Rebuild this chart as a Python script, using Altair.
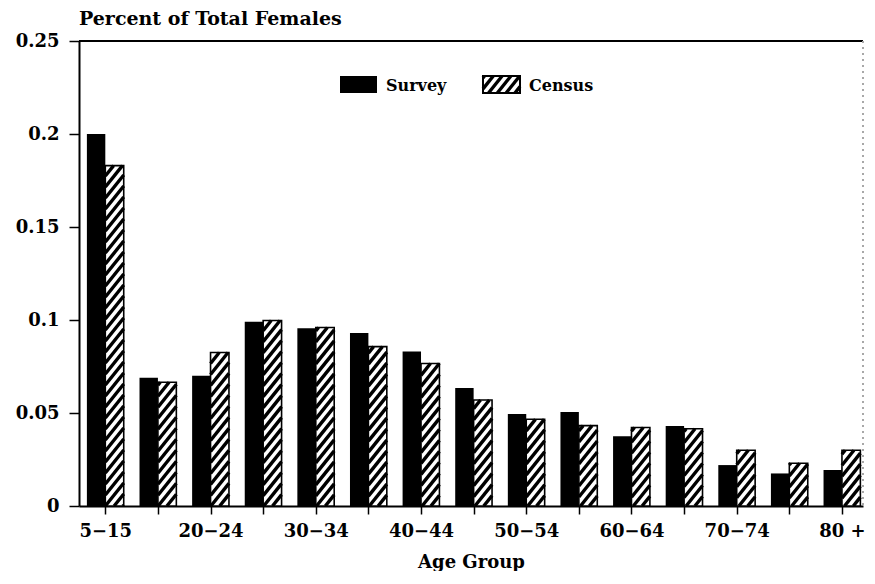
import altair as alt
import pandas as pd
import math

# ---- data ----
age_groups = ["5\u221215", "16\u221219", "20\u221224", "25\u221229", "30\u221234", "35\u221239",
              "40\u221244", "45\u221249", "50\u221254", "55\u221259", "60\u221264", "65\u221269",
              "70\u221274", "75\u221279", "80 +"]
survey = [0.200, 0.069, 0.070, 0.099, 0.0955, 0.093, 0.083, 0.0635, 0.0495, 0.0505,
          0.0375, 0.043, 0.022, 0.0175, 0.0193]
census = [0.183, 0.0665, 0.0825, 0.0997, 0.096, 0.0857, 0.0766, 0.057, 0.0466, 0.0432,
          0.0422, 0.0415, 0.030, 0.023, 0.030]
y_ticks = [0, 0.05, 0.1, 0.15, 0.2, 0.25]
series_names = ["Survey", "Census"]

# ---- layout / style constants ----
FONT = "DejaVu Serif"
N = len(age_groups)
STEP = 52.6
XMIN, XMAX = -0.5, N - 0.6
W = round(STEP * (XMAX - XMIN))
H = 465
YMAX = 0.25
PX_X = W / (XMAX - XMIN)
PX_Y = H / YMAX
BAR_W = 0.35
SLOPE = 1.25
PERIOD = 11.0


def hatch(x0, x1, y0, y1):
    X0, X1 = x0 * PX_X, x1 * PX_X
    Y0, Y1 = y0 * PX_Y, y1 * PX_Y
    segs = []
    kmin = math.floor((Y0 - SLOPE * X1) / PERIOD)
    kmax = math.ceil((Y1 - SLOPE * X0) / PERIOD)
    for k in range(kmin, kmax + 1):
        c = k * PERIOD
        xa = max(X0, (Y0 - c) / SLOPE)
        xb = min(X1, (Y1 - c) / SLOPE)
        if xb - xa > 0.8:
            segs.append({"hx": xa / PX_X, "hx2": xb / PX_X,
                         "hy": (SLOPE * xa + c) / PX_Y, "hy2": (SLOPE * xb + c) / PX_Y})
    return segs


bars = pd.DataFrame({
    "idx": list(range(N)) * 2,
    "group": age_groups * 2,
    "series": [series_names[0]] * N + [series_names[1]] * N,
    "value": survey + census,
})
bars["x0"] = bars["idx"] + bars["series"].map({"Survey": -BAR_W, "Census": 0.0})
bars["x1"] = bars["idx"] + bars["series"].map({"Survey": 0.0, "Census": BAR_W})

hatch_rows = []
for i, v in enumerate(census):
    hatch_rows += hatch(i, i + BAR_W, 0, v)

# legend (placed in pixel space of the plot, converted to data units)
def px2x(px):
    return XMIN + px / PX_X

def px2y(py):
    return YMAX - py / PX_Y

LEG_Y0, LEG_Y1 = 35, 52
leg = pd.DataFrame({
    "series": series_names,
    "x0": [px2x(261), px2x(404)],
    "x1": [px2x(298), px2x(441)],
    "y0": [px2y(LEG_Y1)] * 2,
    "y1": [px2y(LEG_Y0)] * 2,
    "tx": [px2x(307), px2x(450)],
    "ty": [px2y((LEG_Y0 + LEG_Y1) / 2 + 1)] * 2,
})
hatch_rows += hatch(px2x(404), px2x(441), px2y(LEG_Y1), px2y(LEG_Y0))
hatch_df = pd.DataFrame(hatch_rows)

xscale = alt.Scale(domain=[XMIN, XMAX], nice=False, zero=False)
yscale = alt.Scale(domain=[0, YMAX], nice=False)

label_arr = "[" + ",".join("'" + g + "'" for g in age_groups) + "]"

x_axis = alt.Axis(values=list(range(N)),
                  labelExpr=f"datum.value % 2 == 0 ? {label_arr}[datum.value] : ''",
                  title="Age Group", grid=False, tickSize=8, tickWidth=1.5,
                  tickColor="black", domainColor="black", domainWidth=2,
                  labelFont=FONT, labelFontSize=18, labelFontWeight="bold",
                  labelColor="black", labelPadding=8, labelFlush=False,
                  labelOverlap=False, titleFont=FONT, titleFontSize=18,
                  titleFontWeight="bold", titleColor="black", titlePadding=13)
y_axis = alt.Axis(values=y_ticks, format="~g", title=None, grid=False,
                  tickSize=10, tickWidth=1.5, tickColor="black",
                  domainColor="black", domainWidth=2,
                  labelFont=FONT, labelFontSize=18, labelFontWeight="bold",
                  labelColor="black", labelPadding=10, labelFlush=False)

base = alt.Chart(bars)

survey_bars = base.transform_filter(alt.datum.series == "Survey").mark_rect(
    color="black").encode(
    x=alt.X("x0:Q", scale=xscale, axis=x_axis),
    x2="x1:Q",
    y=alt.Y("value:Q", scale=yscale, axis=y_axis),
    y2=alt.datum(0),
)
census_fill = base.transform_filter(alt.datum.series == "Census").mark_rect(
    color="white").encode(
    x=alt.X("x0:Q", scale=xscale), x2="x1:Q",
    y=alt.Y("value:Q", scale=yscale), y2=alt.datum(0),
)
hatch_layer = alt.Chart(hatch_df).mark_rule(color="black", strokeWidth=3.4).encode(
    x=alt.X("hx:Q", scale=xscale), x2="hx2:Q",
    y=alt.Y("hy:Q", scale=yscale), y2="hy2:Q",
)
census_outline = base.transform_filter(alt.datum.series == "Census").mark_rect(
    fill=None, stroke="black", strokeWidth=1.6).encode(
    x=alt.X("x0:Q", scale=xscale), x2="x1:Q",
    y=alt.Y("value:Q", scale=yscale), y2=alt.datum(0),
)

leg_base = alt.Chart(leg)
leg_survey = leg_base.transform_filter(alt.datum.series == "Survey").mark_rect(
    color="black").encode(
    x=alt.X("x0:Q", scale=xscale), x2="x1:Q",
    y=alt.Y("y0:Q", scale=yscale), y2="y1:Q")
leg_census = leg_base.transform_filter(alt.datum.series == "Census").mark_rect(
    fill=None, stroke="black", strokeWidth=2).encode(
    x=alt.X("x0:Q", scale=xscale), x2="x1:Q",
    y=alt.Y("y0:Q", scale=yscale), y2="y1:Q")
leg_text = leg_base.mark_text(font=FONT, fontSize=16, fontWeight="bold",
                              align="left", baseline="middle", color="black").encode(
    x=alt.X("tx:Q", scale=xscale), y=alt.Y("ty:Q", scale=yscale), text="series:N")

top_line = alt.Chart(bars).mark_rule(color="black", strokeWidth=2).encode(
    y=alt.datum(YMAX))
right_line = alt.Chart(bars).mark_rule(color="#aaaaaa", strokeWidth=1,
                                       strokeDash=[2, 4], opacity=0.5).encode(
    x=alt.datum(XMAX))

chart = alt.layer(
    survey_bars, census_fill, hatch_layer, census_outline,
    top_line, right_line, leg_survey, leg_census, leg_text,
).properties(
    width=W, height=H,
    title=alt.TitleParams("Percent of Total Females", anchor="start", frame="group",
                          font=FONT, fontSize=19, fontWeight="bold", color="black",
                          offset=3),
    padding={"left": 7, "top": 2, "right": 0, "bottom": 0},
).configure_view(stroke=None)

chart.save("out.html", embed_options={"renderer": "svg", "actions": False})
